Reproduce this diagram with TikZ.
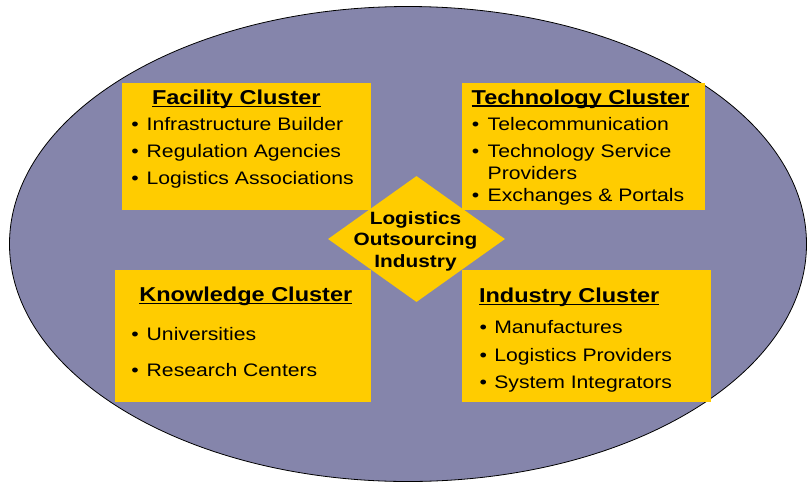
\documentclass[tikz,border=0pt]{standalone}
\usepackage{fontspec}
\setmainfont[FakeStretch=1.17]{Liberation Sans}
\usetikzlibrary{shapes.geometric}
\definecolor{ovalfill}{RGB}{133,133,171}
\definecolor{clusterfill}{RGB}{255,204,0}
\begin{document}
\begin{tikzpicture}[x=1pt,y=-1pt,
  clusterbox/.style={fill=clusterfill, draw=none, inner sep=0pt, outer sep=0pt},
  titletext/.style={font=\fontsize{20.1}{24}\selectfont\bfseries, anchor=base west, inner sep=0pt, outer sep=0pt},
  itemtext/.style={font=\fontsize{18.1}{21}\selectfont, anchor=base west, inner sep=0pt, outer sep=0pt},
  bullettext/.style={font=\fontsize{18.1}{21}\selectfont, anchor=base, inner sep=0pt, outer sep=0pt},
  uline/.style={line width=1.4pt, black}]
\useasboundingbox (0,0) rectangle (807,483);
% outer oval
\draw[fill=ovalfill, draw=black, line width=0.8pt] (408,244) ellipse [x radius=398.5pt, y radius=237.5pt];
% cluster boxes
\node[clusterbox, minimum width=249pt, minimum height=127pt] (fac) at (246.5,146.5) {};
\node[clusterbox, minimum width=243pt, minimum height=127pt] (tec) at (583.5,146.5) {};
\node[clusterbox, minimum width=256pt, minimum height=132pt] (kno) at (243,336) {};
\node[clusterbox, minimum width=249pt, minimum height=132pt] (ind) at (586.5,336) {};
% central diamond
\node[diamond, fill=clusterfill, draw=none, inner sep=0pt, minimum width=177pt, minimum height=126pt] (core) at (416.5,239) {};
\node[font=\fontsize{17.8}{21.5}\selectfont\bfseries, align=center, inner sep=0pt] (coretext) at (415.5,241) {Logistics\\Outsourcing\\Industry};
% Facility cluster
\node[titletext] (facT) at (152,104.3) {Facility Cluster};
\draw[uline] ([yshift=-2pt]facT.base west) -- ([yshift=-2pt]facT.base east);
\node[bullettext] (facb1) at (135,130.5) {•};
\node[itemtext] (faci1) at (146.7,130.5) {Infrastructure Builder};
\node[bullettext] (facb2) at (135,157.5) {•};
\node[itemtext] (faci2) at (146.7,157.5) {Regulation Agencies};
\node[bullettext] (facb3) at (135,184.5) {•};
\node[itemtext] (faci3) at (146.7,184.5) {Logistics Associations};
% Technology cluster
\node[titletext] (tecT) at (471.7,104) {Technology Cluster};
\draw[uline] ([yshift=-2pt]tecT.base west) -- ([yshift=-2pt]tecT.base east);
\node[bullettext] (tecb1) at (475.7,130.3) {•};
\node[itemtext] (teci1) at (487.7,130.3) {Telecommunication};
\node[bullettext] (tecb2) at (475.7,157) {•};
\node[itemtext] (teci2) at (487.7,157) {Technology Service};
\node[itemtext] (teci2b) at (487.7,179) {Providers};
\node[bullettext] (tecb3) at (475.7,201.3) {•};
\node[itemtext] (teci3) at (487.7,201.3) {Exchanges \& Portals};
% Knowledge cluster
\node[titletext] (knoT) at (139.3,301.7) {Knowledge Cluster};
\draw[uline] ([yshift=-2pt]knoT.base west) -- ([yshift=-2pt]knoT.base east);
\node[bullettext] (knob1) at (135,340) {•};
\node[itemtext] (knoi1) at (146.7,340) {Universities};
\node[bullettext] (knob2) at (135,376.7) {•};
\node[itemtext] (knoi2) at (146.7,376.7) {Research Centers};
% Industry cluster
\node[titletext] (indT) at (479,302.3) {Industry Cluster};
\draw[uline] ([yshift=-2pt]indT.base west) -- ([yshift=-2pt]indT.base east);
\node[bullettext] (indb1) at (483.3,333.3) {•};
\node[itemtext] (indi1) at (494.3,333.3) {Manufactures};
\node[bullettext] (indb2) at (483.3,361) {•};
\node[itemtext] (indi2) at (494.3,361) {Logistics Providers};
\node[bullettext] (indb3) at (483.3,388.3) {•};
\node[itemtext] (indi3) at (494.3,388.3) {System Integrators};
\end{tikzpicture}
\end{document}
